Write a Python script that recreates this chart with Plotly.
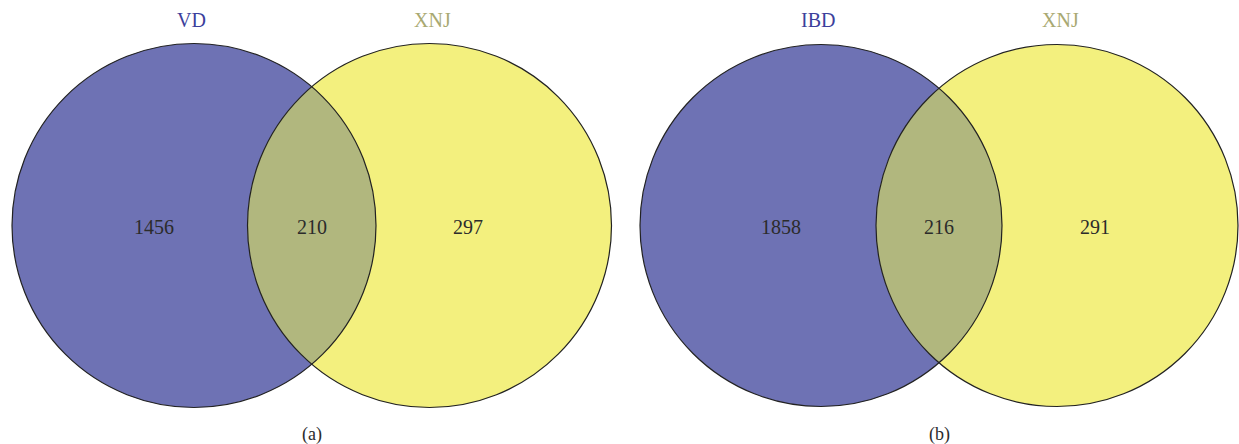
"""Two-set Venn diagrams: VD vs XNJ (a) and IBD vs XNJ (b)"""
import numpy as np
import plotly.graph_objects as go

# data
panel_tags = ["(a)", "(b)"]
left_sets = ["VD", "IBD"]
right_sets = ["XNJ", "XNJ"]
left_only = [1456, 1858]
shared = [210, 216]
right_only = [297, 291]

# layout of each diagram (pixel space): left centre, right centre, radius
geom = [(194, 429.5, 182), (821, 1057, 181)]
cy = 225.5

BLUE = "#6e72b4"
YELLOW = "#f3f07e"
LENS = "#b1b77e"
FONT = "Liberation Serif, Times New Roman, serif"

fig = go.Figure()


def lens(x1, x2, r1, r2, n=120):
    """Polygon of the overlap of two circles sitting on the same horizontal line."""
    d = x2 - x1
    a = (r1 ** 2 - r2 ** 2 + d ** 2) / (2 * d)
    t1 = np.arccos(a / r1)
    t2 = np.arccos((d - a) / r2)
    ang1 = np.linspace(-t1, t1, n)
    ang2 = np.linspace(np.pi - t2, np.pi + t2, n)
    xs = np.concatenate([x1 + r1 * np.cos(ang1), x2 + r2 * np.cos(ang2)])
    ys = np.concatenate([cy + r1 * np.sin(ang1), cy + r2 * np.sin(ang2)])
    return xs, ys


for i, (c1, c2, r) in enumerate(geom):
    # filled circles underneath
    for cx, col in [(c1, BLUE), (c2, YELLOW)]:
        fig.add_shape(type="circle", xref="x", yref="y", layer="below",
                      x0=cx - r, x1=cx + r, y0=cy - r, y1=cy + r,
                      fillcolor=col, line={"width": 0})

    # overlap region
    lx, ly = lens(c1, c2, r, r)
    fig.add_trace(go.Scatter(x=lx, y=ly, mode="lines", fill="toself",
                             fillcolor=LENS, line={"width": 0},
                             hoverinfo="skip", showlegend=False))

    # outlines on top
    for cx in (c1, c2):
        fig.add_shape(type="circle", xref="x", yref="y", layer="above",
                      x0=cx - r, x1=cx + r, y0=cy - r, y1=cy + r,
                      fillcolor="rgba(0,0,0,0)", line={"color": "#222222", "width": 1.2})

    # counts
    for x, val in [(c1 - 40, left_only[i]), ((c1 + c2) / 2, shared[i]), (c2 + 38, right_only[i])]:
        fig.add_annotation(x=x, y=cy + 1, text=str(val), showarrow=False,
                           font={"family": FONT, "size": 20, "color": "#2b2b2b"})

    # set names
    fig.add_annotation(x=c1 - 3, y=20, text=left_sets[i], showarrow=False,
                       font={"family": FONT, "size": 20, "color": "#3c3f9c"})
    fig.add_annotation(x=c2 + 3, y=20, text=right_sets[i], showarrow=False,
                       font={"family": FONT, "size": 20, "color": "#a9a972"})

    # panel tag
    fig.add_annotation(x=(c1 + c2) / 2, y=434, text=panel_tags[i], showarrow=False,
                       font={"family": FONT, "size": 18, "color": "#2b2b2b"})

fig.update_layout(width=1239, height=444,
                  margin={"l": 0, "r": 0, "t": 0, "b": 0},
                  paper_bgcolor="white", plot_bgcolor="white",
                  xaxis={"range": [0, 1239], "visible": False, "fixedrange": True},
                  yaxis={"range": [444, 0], "visible": False, "fixedrange": True},
                  showlegend=False)

# drop the browser's default body margin so the figure fills the window
fig.write_html("out.html", config={"displayModeBar": False},
               post_script="document.body.style.margin='0';document.body.style.overflow='hidden';")
